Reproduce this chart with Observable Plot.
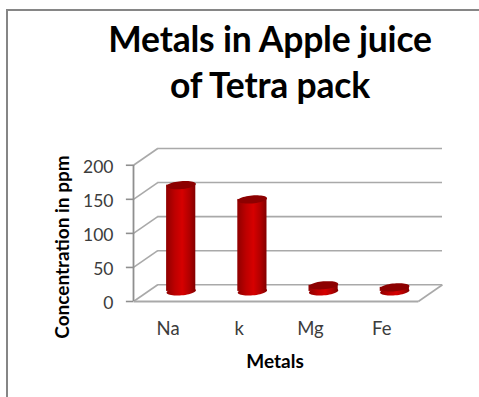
<!DOCTYPE html>
<html>
<head>
<meta charset="utf-8">
<script src="https://cdn.jsdelivr.net/npm/d3@7"></script>
<script src="https://cdn.jsdelivr.net/npm/@observablehq/plot@0.6"></script>
<style>
  html, body { margin: 0; padding: 0; background: #fff; }
  #page { position: relative; width: 479px; height: 397px; overflow: hidden; font-family: Lato, sans-serif; }
  #border { position: absolute; left: 6px; top: 9px; width: 480px; height: 400px; border-left: 2px solid #868686; border-top: 2px solid #868686; }
  #title { position: absolute; left: 60px; width: 420px; top: 16px; margin: 0; text-align: center; font-size: 35.5px; line-height: 45.5px; font-weight: 700; color: #000; letter-spacing: -0.2px; }
  #chart { position: absolute; left: 0; top: 0; }
</style>
</head>
<body>
<div id="page">
  <div id="chart"></div>
  <div id="border"></div>
  <h1 id="title">Metals in Apple juice<br>of Tetra pack</h1>
</div>
<script>
const metals = ["Na", "k", "Mg", "Fe"];
const concentrations = [156, 135, 9, 6];
const yTicks = [0, 50, 100, 150, 200];

// Oblique projection: walking back through the depth of the box moves
// right along the category axis and up along the value axis.
const depthX = 0.34;
const depthY = 24.6;
const barHalfWidth = 0.205;
const barBase = 14.8;
const tickLength = 0.1;

const bars = metals.map((metal, i) => ({
  metal,
  value: concentrations[i],
  cx: i + 0.5 + depthX / 2,
  base: barBase,
  top: concentrations[i] + barBase
}));

// Flattened, slightly tilted disc used for the cylinder caps.
const disc = {
  draw(context, size) {
    const rx = Math.sqrt(size / Math.PI);
    const ry = rx * 0.27;
    const tilt = -5 * Math.PI / 180;
    const steps = 48;
    for (let k = 0; k < steps; ++k) {
      const a = (2 * Math.PI * k) / steps;
      const px = rx * Math.cos(a);
      const py = ry * Math.sin(a);
      const X = px * Math.cos(tilt) - py * Math.sin(tilt);
      const Y = px * Math.sin(tilt) + py * Math.cos(tilt);
      if (k === 0) context.moveTo(X, Y); else context.lineTo(X, Y);
    }
    context.closePath();
  }
};

function gradients() {
  const defs = d3.create("svg:defs");
  const body = defs.append("linearGradient").attr("id", "cyl");
  [["0%", "#8f0000"], ["30%", "#bd0000"], ["55%", "#d60000"], ["80%", "#b00000"], ["100%", "#830000"]]
    .forEach(([offset, color]) => body.append("stop").attr("offset", offset).attr("stop-color", color));
  return defs.node();
}

const wallColor = "#a9a9a9";
const xEnd = metals.length;

const chart = Plot.plot({
  width: 479,
  height: 397,
  marginLeft: 133,
  marginRight: 37,
  marginTop: 148,
  marginBottom: 96,
  style: { fontFamily: "Lato, sans-serif", background: "transparent" },
  x: { type: "linear", domain: [0, xEnd + depthX], axis: null },
  y: { type: "linear", domain: [0, 200 + depthY], axis: null },
  marks: [
    gradients,
    // Back wall gridlines
    Plot.ruleY(yTicks, { y: d => d + depthY, x1: depthX, x2: xEnd + depthX, stroke: wallColor, strokeWidth: 1.6 }),
    // Side wall lines running from the value axis to the back wall
    Plot.link(yTicks, { x1: 0, y1: d => d, x2: depthX, y2: d => d + depthY, stroke: wallColor, strokeWidth: 1.6 }),
    // Floor edges
    Plot.link([0], { x1: 0, y1: 0, x2: xEnd, y2: 0, stroke: wallColor, strokeWidth: 1.8 }),
    Plot.link([0], { x1: xEnd, y1: 0, x2: xEnd + depthX, y2: depthY, stroke: wallColor, strokeWidth: 1.6 }),
    // Value axis line and its outward ticks
    Plot.ruleX([0], { y1: 0, y2: 200, stroke: "#8f8f8f", strokeWidth: 1.8 }),
    Plot.ruleY(yTicks, { x1: -tickLength, x2: 0, stroke: "#8f8f8f", strokeWidth: 1.6 }),
    Plot.axisY({
      ticks: yTicks,
      tickSize: 0,
      tickPadding: 20,
      label: null,
      fontSize: 17.5,
      color: "#3c3c3c",
      anchor: "left",
      dy: 2
    }),
    // Category labels sit under the front edge of the floor
    Plot.axisX({
      ticks: metals.map((_, i) => i + 0.5),
      tickFormat: d => metals[Math.round(d - 0.5)],
      tickSize: 0,
      tickPadding: 20,
      label: null,
      fontSize: 18.5,
      color: "#3c3c3c",
      anchor: "bottom",
      dx: -1
    }),
    // Cylinders: bottom cap, body, top cap
    Plot.dot(bars, { x: "cx", y: "base", r: 14.7, symbol: disc, fill: "url(#cyl)", stroke: "none" }),
    Plot.rect(bars, {
      x1: d => d.cx - barHalfWidth,
      x2: d => d.cx + barHalfWidth,
      y1: "base",
      y2: "top",
      fill: "url(#cyl)",
      inset: 0
    }),
    Plot.dot(bars, { x: "cx", y: "top", r: 14.7, symbol: disc, fill: "#8c0000", stroke: "none" }),
    // Axis titles
    Plot.text(["Concentration in ppm"], {
      text: d => d,
      frameAnchor: "left",
      textAnchor: "middle",
      dx: -71,
      dy: 22,
      rotate: -90,
      fontSize: 19,
      fontWeight: 700,
      fill: "#000"
    }),
    Plot.text(["Metals"], {
      text: d => d,
      frameAnchor: "bottom",
      dx: -13,
      dy: 66,
      fontSize: 19,
      fontWeight: 700,
      fill: "#000"
    })
  ]
});
document.getElementById("chart").append(chart);
</script>
</body>
</html>
